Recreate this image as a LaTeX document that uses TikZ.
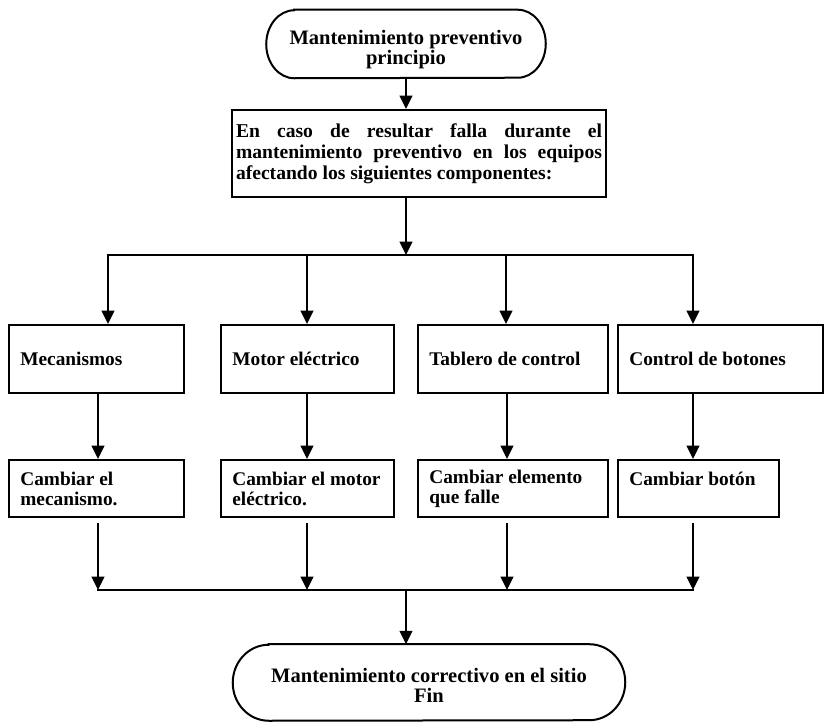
\documentclass[tikz,border=0pt]{standalone}
\usepackage{fontspec}
\setmainfont{Liberation Serif}
\usetikzlibrary{arrows.meta}
\begin{document}
\begin{tikzpicture}[x=0.75pt,y=0.75pt,
  wire/.style={line width=1.5pt,line cap=rect},
  flow/.style={wire,-{Triangle[length=10pt,width=9.5pt]}},
  boxfont/.style={font=\fontsize{14.5pt}{15pt}\selectfont\bfseries},
  ovalfont/.style={font=\fontsize{15.4pt}{15pt}\selectfont\bfseries},
  stepbox/.style={boxfont,draw,line width=1.5pt,inner xsep=8.5pt,inner ysep=0pt,
    align=flush left,execute at begin node={\spaceskip=0pt\xspaceskip=0pt\relax}},
  terminal/.style={inner sep=0pt},
  terminaltext/.style={ovalfont,inner sep=0pt,align=center},
]
\fill[white] (0,0) rectangle (826,723);
\useasboundingbox (0,0) rectangle (826,723);

% start terminal (stadium outline with elliptic ends)
\node[terminal,minimum width=209.25pt,minimum height=51pt] (start) at (406,679) {};
\draw[wire] ([xshift=21pt]start.north west) -- ([xshift=-21pt]start.north east)
  arc[start angle=90,end angle=-90,x radius=21pt,y radius=25.5pt]
  -- ([xshift=21pt]start.south west)
  arc[start angle=270,end angle=90,x radius=21pt,y radius=25.5pt] -- cycle;
\node[terminaltext] (starttext) at ([yshift=-4.5pt]start.center)
  {Mantenimiento preventivo\\principio};

% condition box
\node[stepbox,text width=274.5pt,minimum height=65.25pt,inner xsep=3pt,
  font=\fontsize{14.7pt}{15.75pt}\selectfont\bfseries] (cause) at (419,569.5)
  {\makebox[274.5pt][l]{En\hfill caso\hfill de\hfill resultar\hfill falla\hfill durante\hfill el}\\
   \makebox[274.5pt][l]{mantenimiento\hfill preventivo\hfill en\hfill los\hfill equipos}\\
   afectando los siguientes componentes:};

% components
\node[stepbox,text width=114.25pt,minimum height=51pt] (b1) at (96.5,364) {Mecanismos};
\node[stepbox,text width=112.75pt,minimum height=51pt] (b2) at (307.5,364) {Motor eléctrico};
\node[stepbox,text width=125.5pt,minimum height=51pt] (b3) at (513,364) {Tablero de control};
\node[stepbox,text width=136.75pt,minimum height=51pt] (b4) at (720.5,364) {Control de botones};

% actions
\node[stepbox,text width=114.25pt,minimum height=42.75pt] (c1) at (96.5,234.5) {Cambiar el\\mecanismo.};
\node[stepbox,text width=112.75pt,minimum height=42.75pt] (c2) at (307.5,234.5) {Cambiar el motor\\eléctrico.};
\node[stepbox,text width=125.5pt,minimum height=42.75pt] (c3) at (513,234.5) {Cambiar elemento\\que falle};
\node[stepbox,text width=103.75pt,minimum height=42.75pt] (c4) at (698.5,234.5) {Cambiar botón\\\mbox{}};

% end terminal
\node[terminal,minimum width=294pt,minimum height=57pt] (finish) at (429,40.5) {};
\draw[wire] ([xshift=27pt]finish.north west) -- ([xshift=-27pt]finish.north east)
  arc[start angle=90,end angle=-90,x radius=27pt,y radius=28.5pt]
  -- ([xshift=27pt]finish.south west)
  arc[start angle=270,end angle=90,x radius=27pt,y radius=28.5pt] -- cycle;
\node[terminaltext] (finishtext) at ([yshift=-2.5pt]finish.center)
  {Mantenimiento correctivo en el sitio\\Fin};

% split bus
\coordinate (hub) at (406,468);
\coordinate (t1) at (108,468);
\coordinate (t2) at (307,468);
\coordinate (t3) at (506,468);
\coordinate (t4) at (693,468);
% merge bus
\coordinate (sink) at (406,133);
\coordinate (u1) at (98,133);
\coordinate (u2) at (307,133);
\coordinate (u3) at (507,133);
\coordinate (u4) at (693,133);

\draw[flow] (start.south) -- (start.south |- cause.north);
\draw[flow] (hub |- cause.south) -- (hub);
\draw[wire] (t1) -- (t4);
\foreach \i in {1,...,4} \draw[flow] (t\i) -- (t\i |- b\i.north);
\foreach \i in {1,...,4} \draw[flow] (u\i |- b\i.south) -- (u\i |- c\i.north);
\foreach \i in {1,...,4} \draw[flow,shorten <=4.5pt] (u\i |- c\i.south) -- (u\i);
\draw[wire] (u1) -- (u4);
\draw[flow] (sink) -- (sink |- finish.north);
\end{tikzpicture}
\end{document}
